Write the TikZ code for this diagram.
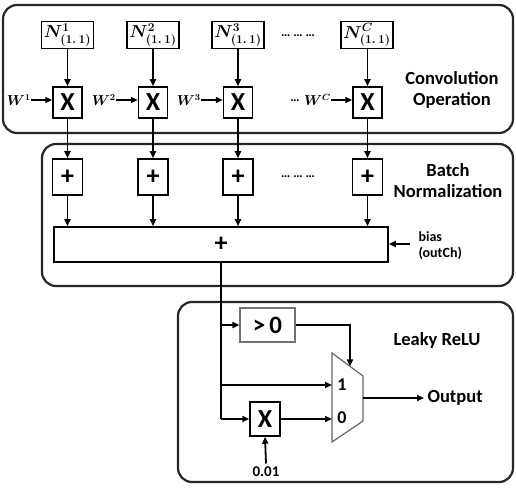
\documentclass[tikz,border=0pt]{standalone}
\usepackage{fontspec}
\setmainfont{Carlito}
\usetikzlibrary{arrows.meta}
\begin{document}
\begin{tikzpicture}[x=1pt,y=-1pt,
  group/.style={draw=black!85, line width=2.2pt, rounded corners=14pt, inner sep=0pt},
  blk/.style={draw, line width=1.5pt, inner sep=0pt, font=\bfseries\fontsize{26}{26}\selectfont},
  nbox/.style={draw, line width=1.3pt, inner sep=0pt, minimum width=52pt, minimum height=27pt, font=\boldmath\fontsize{17}{17}\selectfont},
  wlbl/.style={inner sep=0pt, font=\boldmath\fontsize{13.5}{13.5}\selectfont},
  arr/.style={-{Triangle[length=7pt,width=6pt]}, line width=1.8pt},
  ln/.style={line width=1.8pt},
  lbl/.style={font=\bfseries\fontsize{18.5}{21}\selectfont, align=center},
  small/.style={font=\bfseries\fontsize{14}{17}\selectfont, align=left},
  dots/.style={font=\fontsize{13}{13}\selectfont}
]
\useasboundingbox (0,0) rectangle (516,494);
% groups
\node[group, minimum width=510pt, minimum height=128pt] (g1) at (258,69) {};
\node[group, minimum width=471pt, minimum height=142pt] (g2) at (277.5,215) {};
\node[group, minimum width=335pt, minimum height=180pt] (g3) at (345.5,392) {};
% N boxes
\node[nbox] (n1) at (67.5,35) {$N^{1}_{(1.\,1)}$};
\node[nbox] (n2) at (153,35) {$N^{2}_{(1.\,1)}$};
\node[nbox] (n3) at (238,35) {$N^{3}_{(1.\,1)}$};
\node[nbox] (nc) at (367,35) {$N^{C}_{(1.\,1)}$};
\node[dots] (d1) at (298,36) {\textbf{\dots\ \dots\ \dots}};
% multipliers
\node[blk, minimum width=29pt, minimum height=31pt] (x1) at (67.5,102.5) {X};
\node[blk, minimum width=29pt, minimum height=31pt] (x2) at (153,102.5) {X};
\node[blk, minimum width=29pt, minimum height=31pt] (x3) at (238,102.5) {X};
\node[blk, minimum width=29pt, minimum height=31pt] (xc) at (367.5,102.5) {X};
\node[wlbl, anchor=east] (w1) at (31,100) {$W^{1}$};
\node[wlbl, anchor=east] (w2) at (116,100) {$W^{2}$};
\node[wlbl, anchor=east] (w3) at (201,100) {$W^{3}$};
\node[wlbl, anchor=east] (wc) at (331,100) {$W^{C}$};
\node[dots] (d2) at (295,101) {\textbf{\dots}};
\foreach \a/\b in {w1/x1,w2/x2,w3/x3,wc/xc}{\draw[arr] (\a.east) -- (\a.east -| \b.west);}
\foreach \a/\b in {n1/x1,n2/x2,n3/x3,nc/xc}{\draw[arr] (\b.north |- \a.south) -- (\b.north);}
\node[lbl] (conv) at (452,90) {Convolution\\Operation};
% adders
\node[blk, minimum width=30pt, minimum height=36pt] (p1) at (67.5,177) {+};
\node[blk, minimum width=30pt, minimum height=36pt] (p2) at (153,177) {+};
\node[blk, minimum width=30pt, minimum height=36pt] (p3) at (238,177) {+};
\node[blk, minimum width=30pt, minimum height=36pt] (pc) at (367.5,177) {+};
\node[dots] (d3) at (298,177) {\textbf{\dots\ \dots\ \dots}};
\foreach \a/\b in {x1/p1,x2/p2,x3/p3,xc/pc}{\draw[arr] (\a.south) -- (\b.north);}
\node[blk, minimum width=334pt, minimum height=35pt] (add) at (221,244.5) {+};
\foreach \a in {p1,p2,p3,pc}{\draw[arr] (\a.south) -- (\a.south |- add.north);}
\node[small, anchor=west] (bias) at (415,246) {bias\\[-1pt](outCh)};
\coordinate (bs) at (410,244);
\draw[arr] (bs) -- (bs -| add.east);
\node[lbl] (bn) at (448,181) {Batch\\Normalization};
% leaky relu
\node[lbl] (lr) at (437,340) {Leaky ReLU};
\node[draw=black!55, line width=1.2pt, inner sep=0pt, minimum width=55pt, minimum height=34pt, font=\bfseries\fontsize{25}{25}\selectfont] (gt) at (267.5,325) {>\,0};
\coordinate (m1) at (332,353);
\coordinate (m2) at (363,376);
\coordinate (m3) at (363,421);
\coordinate (m4) at (332,442);
\draw[draw=black!60, line width=1.2pt] (m1) -- (m2) -- (m3) -- (m4) -- cycle;
\node[blk, minimum width=30pt, minimum height=34pt] (mul) at (265,419) {X};
\coordinate (j0) at (add.south);
\coordinate (j1) at (j0 |- gt.west);
\coordinate (j2) at (222,385);
\coordinate (j3) at (j0 |- mul.west);
\draw[ln] (j0) -- (j3);
\draw[arr] (j1) -- (gt.west);
\draw[arr] (j2) -- (j2 -| m1);
\draw[arr] (j3) -- (mul.west);
\draw[arr] (mul.east) -- (mul.east -| m1);
\coordinate (sel) at (350,366.4);
\draw[arr] (gt.east) -- (gt.east -| sel) -- (sel);
\node[small, font=\bfseries\fontsize{18}{18}\selectfont] (in1) at (342,385) {1};
\node[small, font=\bfseries\fontsize{18}{18}\selectfont] (in0) at (342,418) {0};
\node[small, font=\bfseries\fontsize{15}{15}\selectfont] (c001) at (266,472) {0.01};
\draw[arr] (c001.north) -- (mul.south);
\coordinate (mo) at (363,398);
\node[lbl, anchor=west] (out) at (424,398) {Output};
\draw[arr] (mo) -- (out.west);
\end{tikzpicture}
\end{document}
